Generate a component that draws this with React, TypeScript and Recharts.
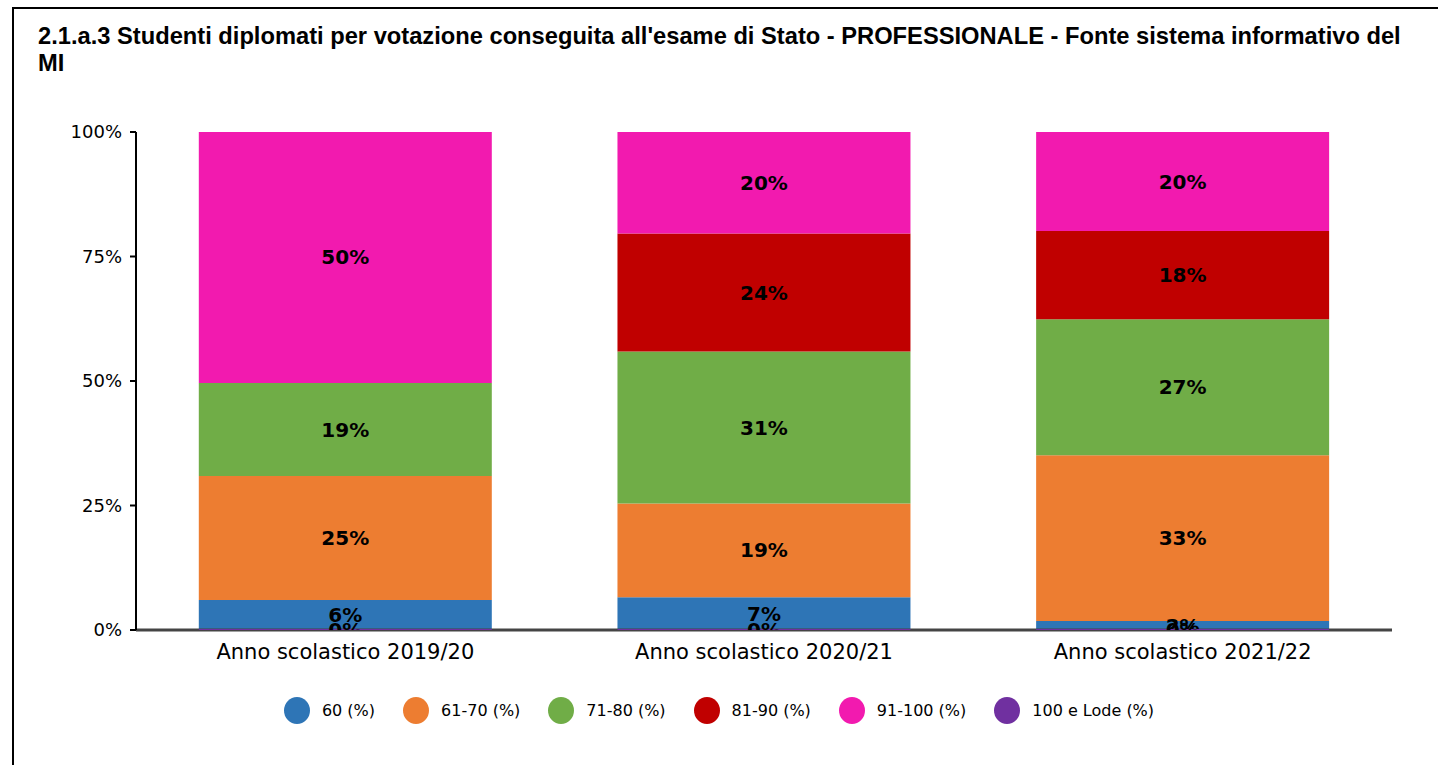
import { BarChart, Bar, XAxis, YAxis, LabelList } from 'recharts'

const categories = ['Anno scolastico 2019/20', 'Anno scolastico 2020/21', 'Anno scolastico 2021/22']
const voto60 = [6.0, 6.6, 1.8]
const voto61_70 = [24.9, 18.8, 33.3]
const voto71_80 = [18.7, 30.5, 27.3]
const voto81_90 = [null, 23.7, 17.7]
const voto91_100 = [50.4, 20.4, 19.9]
const votoLode = [0, 0, 0]
const yTicks = [0, 25, 50, 75, 100]

const series = [
  { key: 'lode', name: '100 e Lode (%)', values: votoLode, color: '#7030A0' },
  { key: 'v60', name: '60 (%)', values: voto60, color: '#2E75B6' },
  { key: 'v61', name: '61-70 (%)', values: voto61_70, color: '#ED7D31' },
  { key: 'v71', name: '71-80 (%)', values: voto71_80, color: '#70AD47' },
  { key: 'v81', name: '81-90 (%)', values: voto81_90, color: '#C00000' },
  { key: 'v91', name: '91-100 (%)', values: voto91_100, color: '#F21AAF' },
]
const legendOrder = ['v60', 'v61', 'v71', 'v81', 'v91', 'lode']

const data = categories.map((c, i) => {
  const row: Record<string, any> = { name: c }
  series.forEach((s) => {
    row[s.key] = s.values[i]
  })
  return row
})

const sans = '"DejaVu Sans", Verdana, sans-serif'

function ValueLabel(props: any) {
  const { x, y, width, height, value, clip } = props
  if (value === null || value === undefined) return null
  return (
    <text
      x={x + width / 2}
      y={y + height / 2}
      textAnchor="middle"
      dominantBaseline="central"
      fontFamily={sans}
      fontWeight="bold"
      fontSize={20}
      fill="#000"
      clipPath={`url(#${clip})`}
    >
      {Math.round(value)}%
    </text>
  )
}

// zero-height bar: draw the thin purple edge plus its (clipped) label
function LodeShape(props: any) {
  const { x, y, width, height, payload } = props
  return (
    <g>
      <rect x={x} y={y + height - 1} width={width} height={1} fill="#7030A0" />
      <ValueLabel x={x} y={y} width={width} height={height} value={payload?.lode} clip="plotClip2" />
    </g>
  )
}

function ChartLegend() {
  return (
    <div
      style={{
        position: 'absolute',
        left: 0,
        top: 697,
        width: 1438,
        display: 'flex',
        justifyContent: 'center',
        alignItems: 'center',
        fontFamily: sans,
        fontSize: 16,
        color: '#000',
      }}
    >
      {legendOrder.map((k, i) => {
        const s = series.find((x) => x.key === k)!
        return (
          <div key={k} style={{ display: 'flex', alignItems: 'center', marginRight: i < legendOrder.length - 1 ? 28 : 0 }}>
            <span style={{ display: 'inline-block', width: 26, height: 27, borderRadius: '50%', background: s.color, marginRight: 12 }} />
            <span>{s.name}</span>
          </div>
        )
      })}
    </div>
  )
}

export default function App() {
  return (
    <div style={{ position: 'absolute', left: 0, top: 0, width: 1438, height: 765, overflow: 'hidden', background: '#fff' }}>
      <div
        style={{
          position: 'absolute',
          left: 12,
          top: 7,
          width: 1440,
          height: 800,
          borderTop: '2px solid #000',
          borderLeft: '2px solid #000',
        }}
      />
      <div
        style={{
          position: 'absolute',
          left: 38,
          top: 23,
          width: 1385,
          fontFamily: '"Liberation Sans", Arial, sans-serif',
          fontWeight: 'bold',
          fontSize: 23.7,
          lineHeight: '27px',
          color: '#000',
        }}
      >
        2.1.a.3 Studenti diplomati per votazione conseguita all'esame di Stato - PROFESSIONALE - Fonte sistema informativo del MI
      </div>
      <div style={{ position: 'absolute', left: 0, top: 0 }}>
        <BarChart
          width={1438}
          height={765}
          data={data}
          barCategoryGap="15%"
          margin={{ top: 132, right: 46, bottom: 75, left: 66 }}
        >
          <defs>
            <clipPath id="plotClip">
              <rect x={136} y={100} width={1256} height={530} />
            </clipPath>
          </defs>
          <XAxis
            dataKey="name"
            height={60}
            axisLine={{ stroke: '#444', strokeWidth: 3 }}
            tickLine={false}
            tickSize={0}
            tickMargin={14}
            tick={{ fill: '#000', fontSize: 21, fontFamily: sans }}
          />
          <YAxis
            width={70}
            domain={[0, 100]}
            ticks={yTicks}
            tickFormatter={(v) => `${v}%`}
            axisLine={{ stroke: '#000', strokeWidth: 2 }}
            tickLine={{ stroke: '#000', strokeWidth: 2 }}
            tickSize={6}
            tickMargin={8}
            tick={{ fill: '#000', fontSize: 18, fontFamily: sans }}
          />
          {series.map((s) => (
            <Bar key={s.key} dataKey={s.key} name={s.name} stackId="a" fill={s.color} isAnimationActive={false}>
              {s.key !== 'lode' && <LabelList dataKey={s.key} content={<ValueLabel clip="plotClip" />} />}
            </Bar>
          ))}
        </BarChart>
      </div>
      {/* overlay for the 100 e Lode labels, which sit on top of the bars */}
      <div style={{ position: 'absolute', left: 0, top: 0, pointerEvents: 'none' }}>
        <BarChart
          width={1438}
          height={765}
          data={data}
          barCategoryGap="15%"
          margin={{ top: 132, right: 46, bottom: 135, left: 136 }}
        >
          <defs>
            <clipPath id="plotClip2">
              <rect x={136} y={100} width={1256} height={530} />
            </clipPath>
          </defs>
          <XAxis dataKey="name" hide />
          <YAxis domain={[0, 100]} hide />
          <Bar dataKey="lode" minPointSize={1} shape={<LodeShape />} isAnimationActive={false} />
        </BarChart>
      </div>
      <ChartLegend />
    </div>
  )
}
